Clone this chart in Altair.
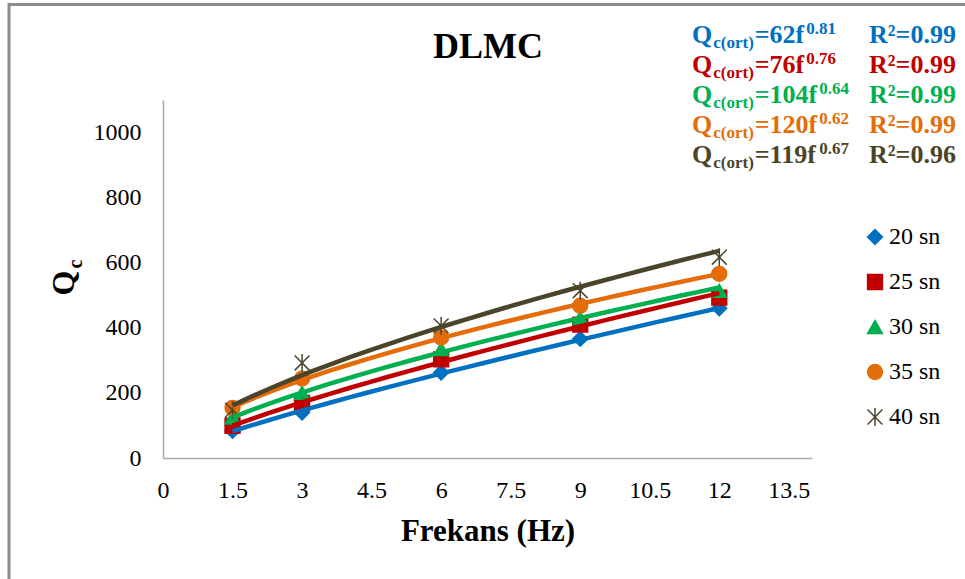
import altair as alt
import pandas as pd

# ---------------- data ----------------
freq = [1.5, 3, 6, 9, 12]
series = ["20 sn", "25 sn", "30 sn", "35 sn", "40 sn"]
q20 = [84, 140, 263, 366, 460]
q25 = [99, 169, 303, 410, 493]
q30 = [124, 200, 335, 430, 514]
q35 = [154, 244, 370, 468, 566]
q40 = [147, 292, 406, 514, 617]
coefs = ["62", "76", "104", "120", "119"]
exps = ["0.81", "0.76", "0.64", "0.62", "0.67"]
r2 = ["0.99", "0.99", "0.99", "0.99", "0.96"]
x_ticks = [0, 1.5, 3, 4.5, 6, 7.5, 9, 10.5, 12, 13.5]
y_ticks = [0, 200, 400, 600, 800, 1000]

colors = ["#0070C0", "#C00000", "#00B050", "#E46C0A", "#4A452A"]
asterisk = "M-1,-1L1,1M-1,1L1,-1M0,-1.2L0,1.2"
shapes = ["diamond", "square", "triangle-up", "circle", asterisk]

rows = []
for s, vals in zip(series, [q20, q25, q30, q35, q40]):
    for f, v in zip(freq, vals):
        rows.append({"Seri": s, "f": f, "Qc": v})
df = pd.DataFrame(rows)

SERIF = "Liberation Serif"
W, H = 649, 358
PL, PT = 163, 100

xs = alt.Scale(domain=[0, 14], nice=False, zero=False)
ys = alt.Scale(domain=[0, 1100], nice=False)

x_axis = alt.Axis(values=x_ticks, format=".1~f", title=None, grid=False, ticks=False,
                  labelPadding=20, labelFlush=False, labelOverlap=False)
y_axis = alt.Axis(values=y_ticks, format="d", title=None, grid=False, ticks=False,
                  labelPadding=22, labelFlush=False, labelOverlap=False)

leg = alt.Legend(title=None, orient="none", legendX=700, legendY=125)

cscale = alt.Scale(domain=series, range=colors)

pts = alt.Chart(df).mark_point(filled=True, size=220, strokeWidth=1.5, opacity=1).encode(
    x=alt.X("f:Q", scale=xs, axis=x_axis),
    y=alt.Y("Qc:Q", scale=ys, axis=y_axis),
    fill=alt.Fill("Seri:N", scale=cscale, legend=leg),
    stroke=alt.Stroke("Seri:N", scale=cscale, legend=leg),
    shape=alt.Shape("Seri:N", scale=alt.Scale(domain=series, range=shapes), legend=leg),
)

lines = alt.Chart(df).transform_regression(
    "f", "Qc", groupby=["Seri"], method="pow", extent=[1.5, 12]
).mark_line(strokeWidth=4.5).encode(
    x=alt.X("f:Q", scale=xs, axis=x_axis),
    y=alt.Y("Qc:Q", scale=ys, axis=y_axis),
    color=alt.Color("Seri:N", scale=cscale, legend=None),
)


def txt(s, x, y, size, color="black", weight="bold", angle=0, align="left",
        baseline="alphabetic"):
    return alt.Chart(alt.Data(values=[{}])).mark_text(
        text=s, font=SERIF, fontSize=size, fontWeight=weight, color=color,
        align=align, baseline=baseline, angle=angle
    ).encode(x=alt.value(x - PL), y=alt.value(y - PT))


border = alt.Chart(alt.Data(values=[{}])).mark_rect(
    filled=False, stroke="#8C8C8C", strokeWidth=3
).encode(x=alt.value(9 - PL), x2=alt.value(1100), y=alt.value(4.5 - PT), y2=alt.value(700))

WB = {"0": .5, "1": .5, "2": .5, "3": .5, "4": .5, "5": .5, "6": .5, "7": .5,
      "8": .5, "9": .5, ".": .25, "=": .57, "f": .333, "Q": .778, "c": .444,
      "(": .333, ")": .333, "o": .5, "r": .444, "t": .333}


def width(s, size):
    return sum(WB.get(ch, .5) for ch in s) * size


texts = []
MAIN, SMALL = 26, 17
for i in range(5):
    col = colors[i]
    base = 43 + 30 * i
    x = 692
    texts.append(txt("Q", x, base, MAIN, col))
    x += width("Q", MAIN) + 1
    texts.append(txt("c(ort)", x, base + 5, SMALL, col))
    x += width("c(ort)", SMALL) + 1
    s = "=" + coefs[i] + "f"
    texts.append(txt(s, x, base, MAIN, col))
    x += width(s, MAIN) + 2
    texts.append(txt(exps[i], x, base - 9, SMALL, col))
    texts.append(txt("R²=" + r2[i], 869, base, MAIN, col))

texts.append(txt("DLMC", 488, 47, 36, baseline="middle", align="center"))
texts.append(txt("Frekans (Hz)", 488, 532, 31, baseline="middle", align="center"))
texts.append(txt("Q", 64, 283, 32, angle=270, baseline="middle", align="center"))
texts.append(txt("c", 76, 264, 20, angle=270, baseline="middle", align="center"))

chart = alt.layer(border, pts, lines, *texts).properties(
    width=W, height=H,
    padding={"left": PL, "top": PT, "right": 965 - PL - W, "bottom": 579 - PT - H},
    autosize=alt.AutoSizeParams(type="none"),
    background="white",
).configure_view(stroke=None).configure_axis(
    labelFont=SERIF, labelFontSize=24, labelColor="black",
    domainColor="#A6A6A6", domainWidth=1.5, grid=False, ticks=False,
).configure_legend(
    labelFont=SERIF, labelFontSize=24, labelColor="black",
    symbolSize=220, symbolStrokeWidth=1.5, rowPadding=21,
    labelOffset=2, padding=0,
)

chart.save("out.html", embed_options={"renderer": "svg", "actions": False})
